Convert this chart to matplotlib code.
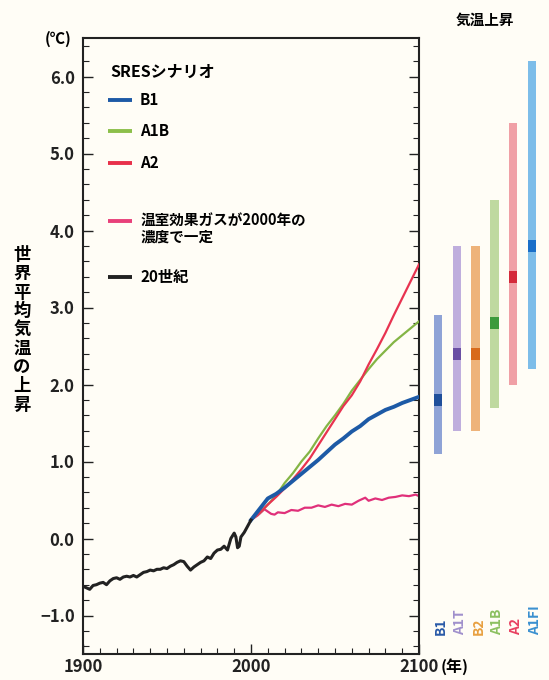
import numpy as np
import matplotlib
matplotlib.use("Agg")
import matplotlib.pyplot as plt

plt.rcParams['font.family'] = ['Noto Sans CJK JP', 'DejaVu Sans']
plt.rcParams['font.weight'] = 'bold'

## data
years20 = [1900, 1902, 1904, 1906, 1908, 1910, 1912, 1914, 1916, 1918, 1920, 1922, 1924, 1926,
           1928, 1930, 1932, 1934, 1936, 1938, 1940, 1942, 1944, 1946, 1948, 1950, 1952, 1954,
           1956, 1958, 1960, 1962, 1964, 1966, 1968, 1970, 1972, 1974, 1976, 1978, 1980, 1982,
           1984, 1986, 1988, 1990, 1991, 1992, 1993, 1994, 1996, 1998, 2000]
temp20 = [-0.62, -0.64, -0.66, -0.61, -0.60, -0.58, -0.57, -0.60, -0.55, -0.52, -0.51, -0.53,
          -0.50, -0.49, -0.50, -0.48, -0.50, -0.47, -0.44, -0.43, -0.41, -0.42, -0.40, -0.40,
          -0.38, -0.39, -0.36, -0.34, -0.31, -0.29, -0.30, -0.36, -0.41, -0.37, -0.34, -0.31,
          -0.29, -0.24, -0.26, -0.19, -0.15, -0.14, -0.10, -0.15, 0.00, 0.07, 0.02, -0.12,
          -0.10, 0.02, 0.08, 0.16, 0.24]

yearsProj = list(range(2000, 2101, 5))
b1 = [0.24, 0.38, 0.52, 0.58, 0.66, 0.75, 0.84, 0.93, 1.02, 1.12, 1.22, 1.30, 1.39, 1.46,
      1.55, 1.61, 1.67, 1.71, 1.76, 1.80, 1.84]
a1b = [0.24, 0.33, 0.44, 0.56, 0.72, 0.85, 1.00, 1.13, 1.30, 1.46, 1.60, 1.75, 1.92, 2.06,
       2.20, 2.33, 2.44, 2.55, 2.64, 2.73, 2.82]
a2 = [0.24, 0.33, 0.44, 0.54, 0.65, 0.77, 0.90, 1.04, 1.21, 1.38, 1.55, 1.72, 1.86, 2.04,
      2.26, 2.46, 2.67, 2.90, 3.12, 3.34, 3.56]

yearsConst = [2000, 2004, 2008, 2010, 2012, 2014, 2016, 2020, 2024, 2028, 2032, 2036, 2040,
              2044, 2048, 2052, 2056, 2060, 2064, 2068, 2070, 2074, 2078, 2082, 2086, 2090,
              2094, 2098, 2100]
const = [0.24, 0.30, 0.38, 0.35, 0.32, 0.31, 0.34, 0.33, 0.37, 0.36, 0.40, 0.40, 0.43, 0.41,
         0.44, 0.42, 0.45, 0.44, 0.49, 0.53, 0.49, 0.52, 0.50, 0.53, 0.54, 0.56, 0.55, 0.57, 0.55]

# likely ranges at 2100 (bars on the right)
scenarios = ["B1", "A1T", "B2", "A1B", "A2", "A1FI"]
rangeLow = [1.1, 1.4, 1.4, 1.7, 2.0, 2.2]
rangeHigh = [2.9, 3.8, 3.8, 4.4, 5.4, 6.2]
bestEst = [1.8, 2.4, 2.4, 2.8, 3.4, 3.8]

barColours = ['#8fa3d6', '#bfaedd', '#eeb37a', '#bfd9a0', '#f0a0a6', '#7dbde9']
bestColours = ['#1f4f9a', '#6a4fa3', '#d86a1c', '#3c9a3c', '#d42a3a', '#1a6fc8']
labelColours = ['#2a5aa8', '#a090cc', '#e8a040', '#8cc060', '#e84060', '#3a90d0']

bg = '#fffdf6'
fig = plt.figure(figsize=(5.49, 6.80), dpi=100, facecolor=bg)
ax = fig.add_axes([83/549, 1 - 654/680, 336/549, 616/680])
ax.set_facecolor(bg)

ax.plot(yearsConst, const, color='#e0307a', lw=1.6, zorder=2)
ax.plot(yearsProj, a1b, color='#84b545', lw=1.6, zorder=3)
ax.plot(yearsProj, a2, color='#e83350', lw=1.6, zorder=4)
ax.plot(yearsProj, b1, color='#1d5aa6', lw=2.8, zorder=5)
ax.plot(years20, temp20, color='#222222', lw=2.2, zorder=6)

ax.set_xlim(1900, 2100)
ax.set_ylim(-1.5, 6.5)
ax.set_xticks([1900, 2000, 2100])
ax.set_xticklabels(['1900', '2000', '2100'])
ax.set_xticks(np.arange(1910, 2100, 10), minor=True)
ax.set_yticks(np.arange(-1, 7, 1))
ax.set_yticklabels(['\u22121.0', '0.0', '1.0', '2.0', '3.0', '4.0', '5.0', '6.0'])
ax.set_yticks(np.arange(-1.4, 6.5, 0.2), minor=True)
ax.tick_params(which='both', direction='in', right=True, top=False, labelsize=12, colors='#222222')
ax.tick_params(which='major', length=7, width=1.0)
ax.tick_params(which='minor', length=4, width=0.8)
ax.tick_params(axis='x', pad=3)
ax.tick_params(axis='y', pad=6)
for s in ax.spines.values():
    s.set_linewidth(1.5)
    s.set_color('#222222')

# legend drawn by hand
ax.text(1916, 6.06, 'SRESシナリオ', fontsize=11.5, va='center', ha='left')
legendItems = [('B1', '#1d5aa6', 5.70), ('A1B', '#8cbf4a', 5.29), ('A2', '#e8304a', 4.88),
               ('温室効果ガスが2000年の\n濃度で一定', '#e8407a', 4.12), ('20世紀', '#222222', 3.40)]
for lab, col, yy in legendItems:
    ax.plot([1915, 1929], [yy, yy], color=col, lw=2.8, solid_capstyle='butt')
    if '\n' in lab:
        ax.text(1934, yy + 0.12, lab, fontsize=10.5, va='top', ha='left', linespacing=1.05)
        continue
    ax.text(1934, yy, lab, fontsize=11, va='center', ha='left')

ax.text(1885, 6.49, '(\u2103)', fontsize=11, ha='center', va='center')
ax.text(2113, -1.66, '(年)', fontsize=11.5, ha='left', va='center')

fig.text(22/549, 1 - 330/680, '\n'.join('世界平均気温の上昇'), fontsize=12.5,
         ha='center', va='center', linespacing=1.05)

# bars for 2100 ranges
bx = fig.add_axes([425/549, 1 - 654/680, 124/549, 616/680])
bx.set_facecolor('none')
bx.set_xlim(-0.69, 5.91)
bx.set_ylim(-1.5, 6.5)
bx.axis('off')
xs = np.arange(len(scenarios))
bx.bar(xs, np.array(rangeHigh) - np.array(rangeLow), bottom=rangeLow, width=0.45,
       color=barColours)
bx.bar(xs, 0.16, bottom=np.array(bestEst) - 0.08, width=0.45, color=bestColours)
for i, name in enumerate(scenarios):
    bx.text(i + 0.15, -1.25, name, rotation=90, color=labelColours[i], fontsize=10,
            ha='center', va='bottom')
fig.text(485/549, 1 - 20/680, '気温上昇', fontsize=10.5, ha='center', va='center')

plt.savefig('out.png', dpi=100, facecolor=bg)
